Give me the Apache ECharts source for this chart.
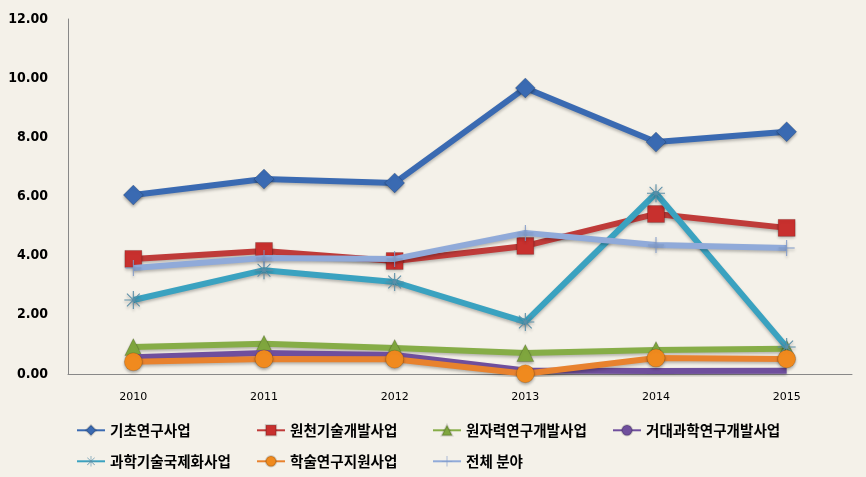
<!DOCTYPE html>
<html><head><meta charset="utf-8">
<script src="https://cdn.jsdelivr.net/npm/echarts@6/dist/echarts.min.js"></script>
<style>html,body{margin:0;padding:0;background:#F4F1E9}#c{width:866px;height:477px}</style>
</head><body><div id="c"></div>
<script>
const years = ['2010','2011','2012','2013','2014','2015'];
const names = ['기초연구사업','원천기술개발사업','원자력연구개발사업','거대과학연구개발사업','과학기술국제화사업','학술연구지원사업','전체 분야'];
const basic = [6.05, 6.59, 6.46, 9.67, 7.84, 8.19];
const source = [3.89, 4.16, 3.82, 4.33, 5.41, 4.94];
const nuclear = [0.91, 1.02, 0.88, 0.71, 0.81, 0.85];
const bigSci = [0.57, 0.71, 0.64, 0.12, 0.10, 0.11];
const intl = [2.50, 3.51, 3.11, 1.76, 6.11, 0.91];
const academic = [0.41, 0.51, 0.50, 0.01, 0.54, 0.51];
const total = [3.58, 3.92, 3.89, 4.77, 4.36, 4.26];
const yTicks = [0, 2, 4, 6, 8, 10, 12];

const star = 'path://M-0.6,-10L0.6,-10L0.6,10L-0.6,10Z M-10,-0.6L10,-0.6L10,0.6L-10,0.6Z M-7.5,-6.7L-6.7,-7.5L7.5,6.7L6.7,7.5Z M6.7,-7.5L7.5,-6.7L-6.7,7.5L-7.5,6.7Z';
const plus = 'path://M-0.6,-10L0.6,-10L0.6,10L-0.6,10Z M-10,-0.6L10,-0.6L10,0.6L-10,0.6Z';

const cfg = [
  {data: basic, color:'#3A6AB2', symbol:'diamond', size:[20,20]},
  {data: source, color:'#BF3B39', symbol:'rect', size:[17,17]},
  {data: nuclear, color:'#86AD47', symbol:'triangle', size:[17,17]},
  {data: bigSci, color:'#6F4F9D', symbol:'none', size:0},
  {data: intl, color:'#3AA2C0', symbol:star, size:[18,18]},
  {data: academic, color:'#E8822E', symbol:'circle', size:[18,18]},
  {data: total, color:'#90AAD9', symbol:plus, size:[16,16]}
];
const markerColors = ['#3A6AB2','#C8302E','#7FA63E','#6F4F9D','#5B8FA8','#F08A1E','#7F99C8'];

const series = cfg.map((c,i)=>({
  name: names[i], type:'line', data: c.data,
  symbol: c.symbol, symbolSize: c.size, showSymbol: c.symbol!=='none',
  lineStyle:{width:6, color:c.color, shadowBlur:3, shadowOffsetY:2, shadowColor:'rgba(0,0,0,0.25)'},
  itemStyle:{color: markerColors[i], borderColor: (i===4||i===6)? markerColors[i] : 'rgba(0,0,0,0.15)', borderWidth:(i===4||i===6)?0:1, shadowBlur:3, shadowOffsetY:2, shadowColor:'rgba(0,0,0,0.3)'},
  z: 2 + i, animation:false
}));

const legendPos = [
  {left:76, top:423},{left:256, top:423},{left:432, top:423},{left:612, top:423},
  {left:76, top:454},{left:256, top:454},{left:432, top:454}
];
const legends = names.map((n,i)=>({
  data:[n], left: legendPos[i].left, top: legendPos[i].top, padding:0,
  itemWidth:28, itemHeight:13, itemGap:0,
  textStyle:{fontFamily:'"Noto Sans CJK KR"', fontWeight:'bold', fontSize:14.6, color:'#000'},
  selectedMode:false
}));

const chart = echarts.init(document.getElementById('c'), null, {renderer:'canvas'});
chart.setOption({
  backgroundColor:'#F4F1E9',
  animation:false,
  grid:{left:68, right:14, top:19, bottom:103},
  legend: legends,
  xAxis:{type:'category', data: years, boundaryGap:true,
    axisLine:{lineStyle:{color:'#888', width:1}}, axisTick:{show:false},
    axisLabel:{color:'#000', fontFamily:'"DejaVu Sans"', fontSize:11, margin:18}},
  yAxis:{type:'value', min:0, max:12, interval:2,
    axisLine:{show:true, lineStyle:{color:'#888', width:1}}, axisTick:{show:false},
    splitLine:{show:false},
    axisLabel:{color:'#000', fontFamily:'"DejaVu Sans Condensed", "DejaVu Sans"', fontWeight:'bold', fontSize:14, margin:20,
      formatter:v=> yTicks.includes(v) ? v.toFixed(2) : ''}},
  series
});
</script></body></html>
